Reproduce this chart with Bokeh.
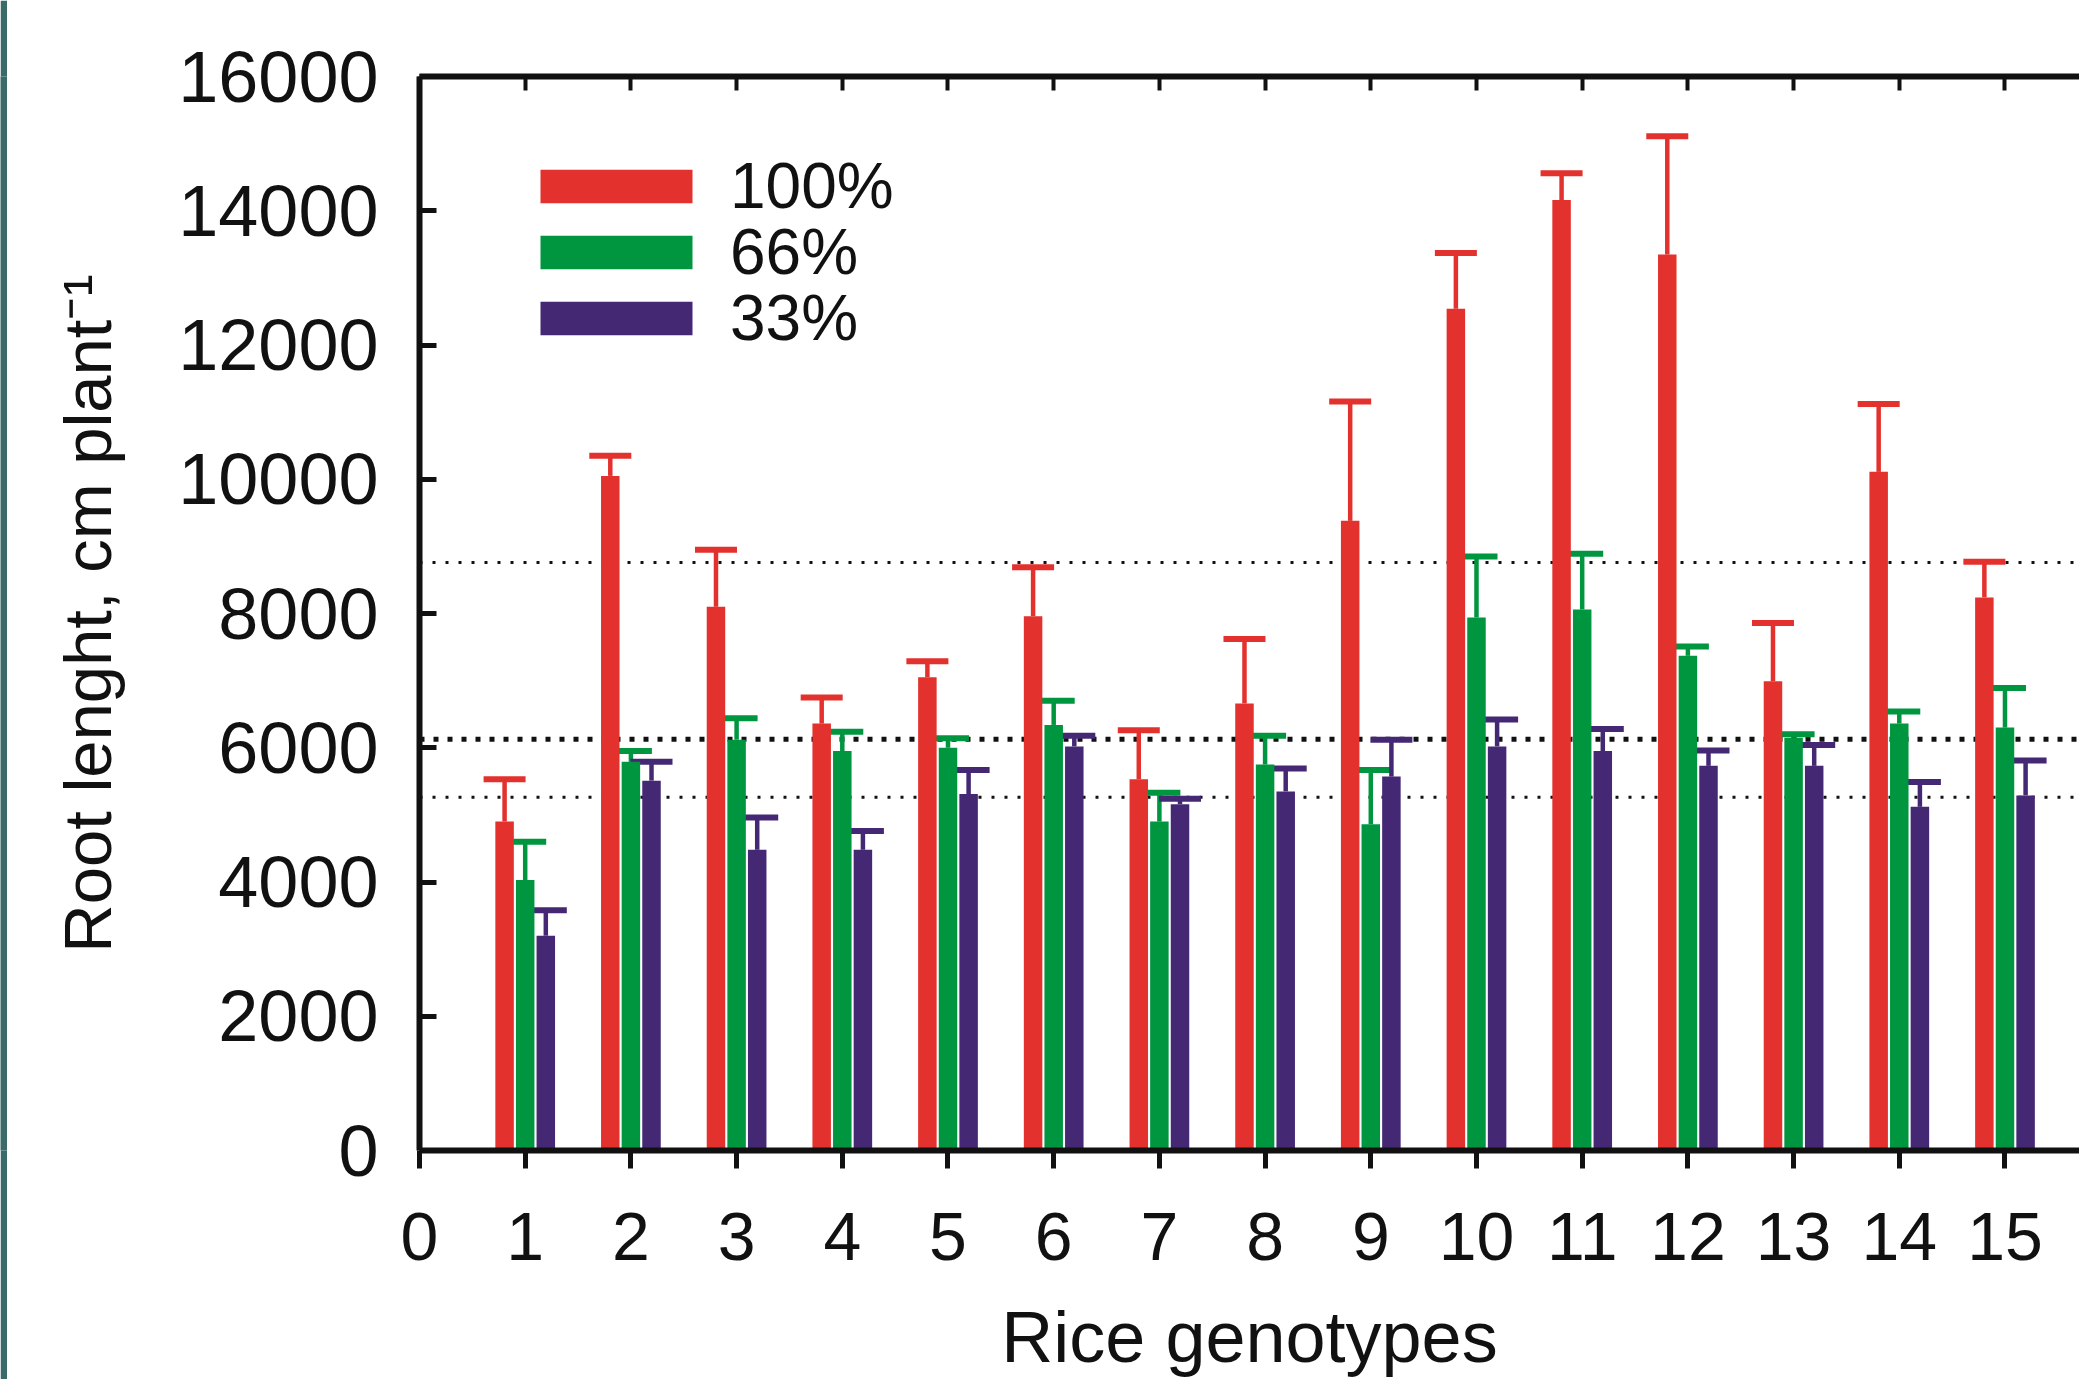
import numpy as np
from bokeh.plotting import figure
from bokeh.layouts import row
from bokeh.models import (ColumnDataSource, Range1d, LinearAxis, FixedTicker, Whisker, TeeHead,
                          Span, Legend, LegendItem, CustomJSTickFormatter)
from bokeh.embed import file_html
from bokeh.resources import INLINE

# ---- data ----
genotypes = list(range(1, 16))
series_names = ["100%", "66%", "33%"]
colors = ["#e3312d", "#00963f", "#442874"]

root_100 = [4900, 10050, 8100, 6360, 7050, 7960, 5530, 6660, 9380, 12540, 14160, 13350, 6990, 10110, 8240]
sd_100 = [630, 300, 850, 390, 240, 730, 730, 960, 1780, 830, 400, 1760, 870, 1010, 530]
root_66 = [4030, 5790, 6120, 5950, 6000, 6340, 4900, 5750, 4860, 7940, 8060, 7370, 6150, 6360, 6300]
sd_66 = [570, 160, 320, 290, 140, 360, 430, 430, 810, 910, 830, 140, 50, 180, 590]
root_33 = [3200, 5510, 4480, 4480, 5310, 6020, 5160, 5350, 5570, 6020, 5950, 5730, 5730, 5120, 5290]
sd_33 = [380, 280, 480, 280, 360, 160, 80, 340, 550, 400, 330, 230, 310, 370, 520]

x_ticks = list(range(0, 16))
y_ticks = list(range(0, 16001, 2000))

values = [root_100, root_66, root_33]
sds = [sd_100, sd_66, sd_33]
offsets = [-0.195, 0.0, 0.195]

FONT = "Liberation Sans"
INK = "#111111"

fig = figure(width=2072, height=1379, output_backend="svg", toolbar_location=None,
             x_range=Range1d(0, 15.705), y_range=Range1d(0, 16000),
             min_border_left=412, min_border_right=0, min_border_top=76, min_border_bottom=229)
fig.background_fill_color = "white"
fig.border_fill_color = "white"
fig.outline_line_color = None
fig.grid.visible = False

# axes
xa = fig.xaxis[0]
xa.ticker = FixedTicker(ticks=x_ticks)
ya = fig.yaxis[0]
ya.ticker = FixedTicker(ticks=y_ticks)
for ax in (xa, ya):
    ax.axis_line_width = 6
    ax.axis_line_color = INK
    ax.major_tick_line_width = 5
    ax.major_tick_line_color = INK
    ax.minor_tick_line_color = None
    ax.major_label_text_font = FONT
    ax.major_label_text_color = INK
    ax.axis_label_text_font = FONT
    ax.axis_label_text_font_style = "normal"
    ax.axis_label_text_color = INK
xa.major_label_text_font_size = "68px"
ya.major_label_text_font_size = "72px"
xa.major_tick_in = 0
xa.major_tick_out = 18
xa.major_label_standoff = 44
ya.major_tick_in = 17
ya.major_tick_out = 0
ya.major_label_standoff = 41

xa.axis_label = "Rice genotypes"
xa.axis_label_text_font_size = "72px"
xa.axis_label_standoff = 34
ya.axis_label = "Root lenght, cm plant\u207b\u00b9"
ya.axis_label_text_font_size = "67px"
ya.axis_label_standoff = 50

top = LinearAxis(ticker=FixedTicker(ticks=x_ticks),
                 formatter=CustomJSTickFormatter(code="return ''"))
top.axis_line_width = 6
top.axis_line_color = INK
top.major_tick_line_width = 4
top.major_tick_line_color = INK
top.major_tick_in = 14
top.major_tick_out = 0
top.minor_tick_line_color = None
top.major_label_standoff = 0
fig.add_layout(top, "above")

# reference lines: series means
mean_styles = [("3 10", 3), ("5 9", 5), ("3 10", 3)]
for vals, (dash, lw) in zip(values, mean_styles):
    fig.add_layout(Span(location=float(np.mean(vals)), dimension="width", line_color=INK,
                        line_dash=dash, line_width=lw, level="underlay"))

# bars + error bars
renderers = []
for name, vals, sd, off, col in zip(series_names, values, sds, offsets, colors):
    xs = [g + off for g in genotypes]
    upper = [v + s for v, s in zip(vals, sd)]
    src = ColumnDataSource(dict(x=xs, top=vals, upper=upper))
    w = Whisker(source=src, base="x", upper="upper", lower="top", dimension="height",
                line_color=col, line_width=4.5,
                upper_head=TeeHead(size=42, line_color=col, line_width=6), lower_head=None)
    fig.add_layout(w)
    r = fig.vbar(x="x", top="top", width=0.175, bottom=0, source=src,
                 fill_color=col, line_color=None)
    renderers.append(r)

# one legend box per entry so the row pitch matches the original
legend_rows_y = [927, 861, 795]
for name, r, ly in zip(series_names, renderers, legend_rows_y):
    lg = Legend(items=[LegendItem(label=name, renderers=[r])],
                location=(102, ly), orientation="vertical",
                glyph_width=190, glyph_height=42, label_standoff=19,
                label_text_font=FONT, label_text_font_size="64px", label_text_color=INK,
                spacing=0, padding=0, margin=0,
                border_line_color=None, background_fill_alpha=0)
    fig.add_layout(lg, "center")

# thin teal page edge seen at the left of the reference
stripe = figure(width=7, height=1379, output_backend="svg", toolbar_location=None,
                x_axis_type=None, y_axis_type=None, min_border=0)
stripe.background_fill_color = "#3b6b69"
stripe.border_fill_color = "#3b6b69"
stripe.outline_line_color = None
stripe.grid.visible = False

p = row(stripe, fig)
open("out.html", "w").write(file_html(p, INLINE))
